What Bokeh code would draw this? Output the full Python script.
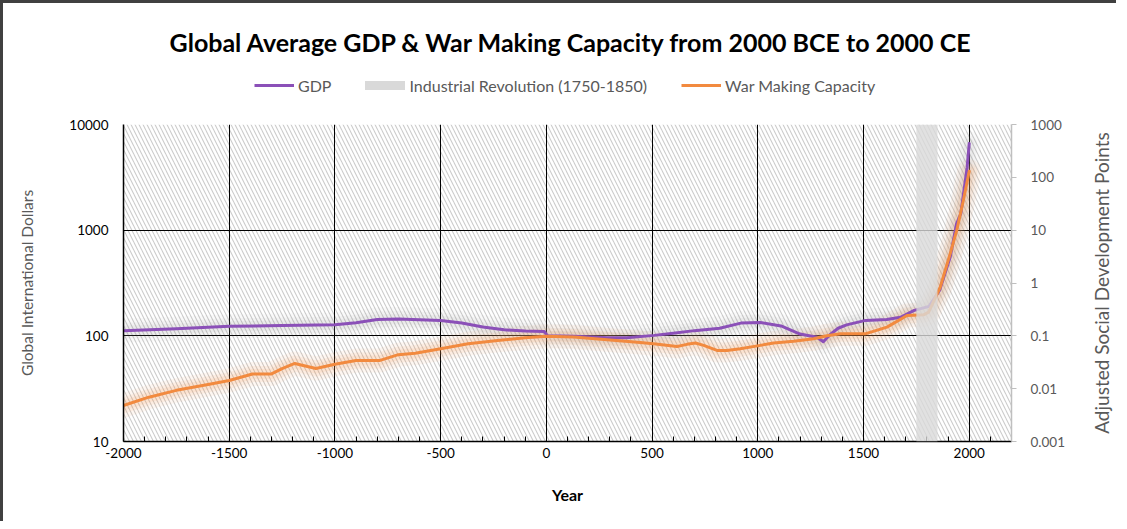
import math
from bokeh.plotting import figure
from bokeh.layouts import column, row
from bokeh.models import (Range1d, LogScale, LogAxis, FixedTicker, SingleIntervalTicker,
                          BoxAnnotation, Legend, LegendItem, Label, CustomJSTickFormatter)
from bokeh.embed import file_html
from bokeh.resources import INLINE

# ---------------- data ----------------
gdp_years = [-2000, -1750, -1500, -1250, -1000, -900, -800, -700, -600, -500, -400, -300,
             -200, -100, -10, 5, 130, 290, 380, 510, 600, 700, 820, 920, 1010, 1110, 1200,
             1280, 1310, 1340, 1380, 1420, 1510, 1610, 1675, 1740, 1810, 1860, 1910, 1940,
             1960, 1990, 2000]
gdp_values = [112, 117, 123, 125, 127, 133, 143, 144, 142, 140, 132, 121,
              114, 111, 110, 100, 99, 96, 96, 101, 106, 112, 118, 132, 134, 124, 104,
              97, 88, 102, 118, 127, 140, 143, 150, 174, 190, 270, 556, 1150,
              1430, 3900, 6600]

war_years = [-2000, -1880, -1750, -1600, -1500, -1390, -1300, -1250, -1190, -1090, -1000,
             -900, -790, -700, -620, -500, -370, -230, -100, 0, 130, 287, 444, 507, 618,
             665, 705, 744, 807, 854, 917, 1012, 1075, 1170, 1264, 1327, 1390, 1508, 1611,
             1706, 1784, 1808, 1863, 1910, 1941, 1972, 2000]
war_values = [0.0048, 0.0069, 0.0093, 0.0120, 0.0143, 0.019, 0.019, 0.024, 0.030, 0.024, 0.029,
              0.034, 0.034, 0.044, 0.047, 0.057, 0.071, 0.082, 0.092, 0.098, 0.095, 0.084, 0.075,
              0.071, 0.063, 0.069, 0.073, 0.066, 0.053, 0.053, 0.057, 0.066, 0.073, 0.079, 0.088,
              0.100, 0.109, 0.109, 0.146, 0.243, 0.25, 0.28, 0.835, 3.6, 9.9, 36, 130]

industrial_start, industrial_end = 1750, 1850

left_ticks = [10, 100, 1000, 10000]
right_ticks = [0.001, 0.01, 0.1, 1, 10, 100, 1000]
right_labels = ["0.001", "0.01", "0.1", "1", "10", "100", "1000"]

TITLE = "Global Average GDP & War Making Capacity from 2000 BCE to 2000 CE"
LEGEND_LABELS = ["GDP", "Industrial Revolution (1750-1850)", "War Making Capacity"]
X_LABEL = "Year"
LEFT_LABEL = "Global International Dollars"
RIGHT_LABEL = "Adjusted Social Development Points"

FONT = "Lato"
PURPLE = "#8b50b8"
ORANGE = "#f28a3f"
BAND = "#d9d9d9"
GREY_TXT = "#595959"
NAN2 = [float("nan"), float("nan")]

# layout (pixels)
BL, FW = 120, 888          # left border and frame width of the plot area
BT, FH, BB = 10, 317, 80   # top border, frame height, bottom border of main plot
BR = 75                    # right border of main plot (right axis ticks/labels)
SIDE_W = 30                # strip holding the right axis title
W_HEAD = BL + FW + BR + SIDE_W

# ---------------- header figure: title + legend ----------------
head = figure(width=W_HEAD, height=111, x_range=Range1d(0, 1), y_range=Range1d(0, 1),
              output_backend="svg", toolbar_location=None,
              min_border_left=BL, min_border_right=W_HEAD - BL - FW, min_border_top=0,
              min_border_bottom=0)
head.axis.visible = False
head.grid.visible = False
head.outline_line_color = None

h_gdp = head.line(x=NAN2, y=NAN2, line_color=PURPLE, line_width=3)
h_band = head.line(x=NAN2, y=NAN2, line_color=BAND, line_width=9, line_cap="round")
h_war = head.line(x=NAN2, y=NAN2, line_color=ORANGE, line_width=3)

head.add_layout(Label(x=448, y=73, x_units="screen", y_units="screen", text=TITLE,
                      text_align="center", text_baseline="middle", text_font=FONT,
                      text_font_size="25px", text_font_style="bold", text_color="black"))
legend = Legend(items=[LegendItem(label=LEGEND_LABELS[0], renderers=[h_gdp]),
                       LegendItem(label=LEGEND_LABELS[1], renderers=[h_band]),
                       LegendItem(label=LEGEND_LABELS[2], renderers=[h_war])],
                orientation="horizontal", location=(131, 19), border_line_color=None,
                background_fill_alpha=0, label_text_font=FONT, label_text_font_size="16px",
                label_text_color=GREY_TXT, glyph_width=40, glyph_height=20, spacing=34,
                label_standoff=4, padding=5, margin=0)
head.add_layout(legend, "center")

# ---------------- main figure ----------------
p = figure(width=BL + FW + BR, height=BT + FH + BB, x_range=Range1d(-2000, 2200),
           y_range=Range1d(10, 10000), y_axis_type="log", output_backend="svg",
           toolbar_location=None, min_border_left=BL, min_border_right=BR,
           min_border_top=BT, min_border_bottom=BB)
p.extra_y_ranges = {"war": Range1d(0.001, 1000)}
p.extra_y_scales = {"war": LogScale()}
p.outline_line_color = None
p.background_fill_color = "white"

hatch = BoxAnnotation(fill_alpha=0, line_color=None, hatch_pattern="left_diagonal_line",
                      hatch_color="#cccccc", hatch_scale=8, hatch_weight=1.1, level="image")
p.add_layout(hatch)

p.xgrid.grid_line_color = "black"
p.xgrid.grid_line_width = 1
p.ygrid.grid_line_color = "black"
p.ygrid.grid_line_width = 1
p.ygrid.ticker = FixedTicker(ticks=left_ticks)

for w, a in [(24, 0.05), (16, 0.07), (10, 0.09)]:
    p.line(gdp_years, gdp_values, line_color="#9a9a9a", line_width=w, line_alpha=a,
           line_join="round", line_cap="round")
    p.line(war_years, war_values, line_color="#f39c5a", line_width=w, line_alpha=a + 0.03,
           line_join="round", line_cap="round", y_range_name="war")

p.line(gdp_years, gdp_values, line_color=PURPLE, line_width=3, line_join="round", line_cap="round")
p.line(war_years, war_values, line_color=ORANGE, line_width=3, line_join="round", line_cap="round",
       y_range_name="war")

band = BoxAnnotation(left=industrial_start, right=industrial_end, fill_color=BAND,
                     fill_alpha=0.8, line_color=None, level="overlay")
p.add_layout(band)

xa = p.xaxis[0]
xa.ticker = SingleIntervalTicker(interval=500, num_minor_ticks=5)
xa.formatter = CustomJSTickFormatter(code="return tick.toFixed(0);")
xa.axis_line_color = "black"
xa.axis_line_width = 1.5
xa.major_tick_in = 0
xa.major_tick_out = 0
xa.minor_tick_in = 5
xa.minor_tick_out = 0
xa.minor_tick_line_color = "black"
xa.major_label_text_font = FONT
xa.major_label_text_font_size = "13.5px"
xa.major_label_text_color = "black"
xa.major_label_standoff = 6
xa.axis_label = X_LABEL
xa.axis_label_text_font = FONT
xa.axis_label_text_font_size = "16px"
xa.axis_label_text_font_style = "bold"
xa.axis_label_text_color = "black"
xa.axis_label_standoff = 24

ya = p.yaxis[0]
ya.ticker = FixedTicker(ticks=left_ticks)
ya.formatter = CustomJSTickFormatter(code="return tick.toFixed(0);")
ya.axis_line_color = "black"
ya.axis_line_width = 1.5
ya.major_tick_in = 0
ya.major_tick_out = 0
ya.minor_tick_in = 0
ya.minor_tick_out = 0
ya.major_label_text_font = FONT
ya.major_label_text_font_size = "13.5px"
ya.major_label_text_color = "black"
ya.major_label_standoff = 15
ya.axis_label = LEFT_LABEL
ya.axis_label_text_font = FONT
ya.axis_label_text_font_size = "15.5px"
ya.axis_label_text_font_style = "normal"
ya.axis_label_text_color = GREY_TXT
ya.axis_label_standoff = 30

ra = LogAxis(y_range_name="war", ticker=FixedTicker(ticks=right_ticks),
             major_label_overrides=dict(zip(right_ticks, right_labels)))
ra.axis_line_color = "#bfbfbf"
ra.axis_line_width = 1.5
ra.major_tick_line_color = "#bfbfbf"
ra.major_tick_in = 0
ra.major_tick_out = 5
ra.minor_tick_in = 0
ra.minor_tick_out = 0
ra.major_label_text_font = FONT
ra.major_label_text_font_size = "13.5px"
ra.major_label_text_color = GREY_TXT
ra.major_label_standoff = 14
p.add_layout(ra, "right")

# ---------------- side strip: right axis title, reading upwards ----------------
side = figure(width=SIDE_W, height=BT + FH + BB, x_range=Range1d(0, 1), y_range=Range1d(0, 1),
              output_backend="svg", toolbar_location=None, min_border_left=0,
              min_border_right=0, min_border_top=BT, min_border_bottom=BB)
side.axis.visible = False
side.grid.visible = False
side.outline_line_color = None
side.add_layout(Label(x=0.5, y=0.5, text=RIGHT_LABEL, angle=math.pi / 2, text_align="center",
                      text_baseline="middle", text_font=FONT, text_font_size="19px",
                      text_color=GREY_TXT))

page = column(head, row(p, side, spacing=0), spacing=0,
              styles={"border-top": "3px solid #404040", "border-left": "3px solid #404040"})

open("out.html", "w").write(file_html(page, INLINE))
